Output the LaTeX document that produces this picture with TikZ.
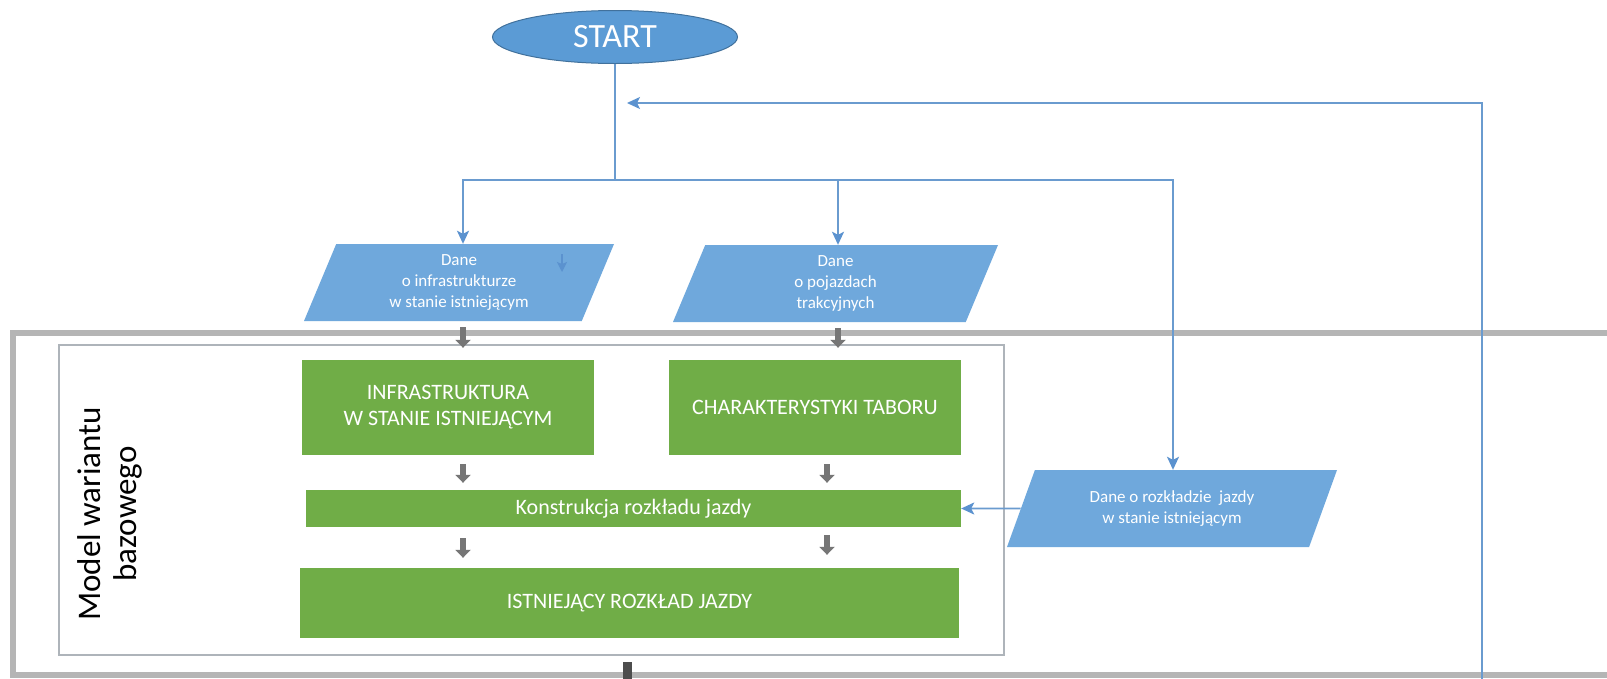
\documentclass[tikz,border=0pt]{standalone}
\usepackage{fontspec}
\setmainfont{Carlito}
\usetikzlibrary{shapes.geometric,arrows.meta,calc}
\definecolor{lineblue}{HTML}{6A9BCF}
\definecolor{tipblue}{HTML}{5B92CF}
\definecolor{parablue}{HTML}{6FA8DC}
\definecolor{startblue}{HTML}{5B9BD5}
\definecolor{startedge}{HTML}{41719C}
\definecolor{boxgreen}{HTML}{70AD47}
\definecolor{arrgray}{HTML}{767676}
\definecolor{framegray}{HTML}{B5B5B5}
\definecolor{innergray}{HTML}{AEB4BA}
\definecolor{darkbar}{HTML}{4D4D4D}
\begin{document}
\begin{tikzpicture}[x=1pt,y=-1pt,
  wire/.style={draw=lineblue, line width=1.6pt},
  flow/.style={draw=lineblue, line width=1.6pt, -{Stealth[length=13pt,width=12pt,inset=3pt,color=tipblue]}},
  para/.style={trapezium, trapezium left angle=60, trapezium right angle=120,
    trapezium stretches body, fill=parablue, draw=none, text=white, align=center,
    font=\fontsize{17}{21}\selectfont, inner sep=0pt},
  gbox/.style={rectangle, fill=boxgreen, draw=none, text=white, align=center,
    font=\fontsize{22}{26}\selectfont, inner sep=0pt},
  garrow/.style={draw=arrgray, line width=6pt, -{Triangle[length=8pt,width=15pt]}},
]
\useasboundingbox (0,0) rectangle (1607,678);
\clip (0,0) rectangle (1607,678);
\fill[white] (0,0) rectangle (1607,678);

% frames
\draw[framegray, line width=6pt] (13,333) rectangle (1650,675);
\draw[innergray, line width=1.2pt] (59,345) rectangle (1004,655);

% nodes
\node[ellipse, fill=startblue, draw=startedge, line width=1pt, minimum width=245pt,
  minimum height=53pt, inner sep=0pt, text=white, font=\fontsize{34}{40}\selectfont]
  (start) at (615,37) {START};

\node[para, minimum width=310pt, minimum height=77pt] (para1) at (459,282.5)
  {Dane\\o infrastrukturze\\w stanie istniejącym};
\node[para, minimum width=325pt, minimum height=77pt] (para2) at (835.5,283.5)
  {Dane\\o pojazdach\\trakcyjnych};
\node[para, trapezium left angle=52, trapezium right angle=128,
  minimum width=330pt, minimum height=77pt] (para3) at (1172,508.5)
  {Dane o rozkładzie\ \ jazdy\\w stanie istniejącym};

\node[gbox, minimum width=292pt, minimum height=95pt] (box1) at (448,407.5)
  {INFRASTRUKTURA\\W STANIE ISTNIEJĄCYM};
\node[gbox, minimum width=292pt, minimum height=95pt] (box2) at (815,407.5)
  {CHARAKTERYSTYKI TABORU};
\node[gbox, minimum width=655pt, minimum height=37pt] (kon) at (633.5,508.5)
  {Konstrukcja rozkładu jazdy};
\node[gbox, minimum width=659pt, minimum height=70pt] (ist) at (629.5,603)
  {ISTNIEJĄCY ROZKŁAD JAZDY};

\node[rotate=90, align=center, font=\fontsize{33}{36}\selectfont] (model) at (110,514)
  {Model wariantu\\bazowego};

% coordinates
\coordinate (b1) at (463,180);
\coordinate (b2) at (838,180);
\coordinate (b3) at (1173,180);
\coordinate (fbbot) at (1482,680);
\coordinate (fbcorner) at (1482,103);
\coordinate (fbtip) at (627,103);
\coordinate (sa1) at (562,254);
\coordinate (sa2) at (562,272);
\coordinate (gx1) at (463,0);
\coordinate (gx2) at (838,0);
\coordinate (gx3) at (827,0);
\coordinate (gbot) at (627,682);

% blue connectors
\draw[wire] (start.south) -- (start.south |- b1);
\draw[flow] (start.south |- b1) -- (b1) -- (b1 |- para1.north);
\draw[flow] (b2) -- (b2 |- para2.north);
\draw[flow] (start.south |- b1) -- (b3) -- (b3 |- para3.north);
\draw[flow] (fbbot) -- (fbcorner) -- (fbtip);
\draw[flow] (para3.west) -- (kon.east);
\draw[draw=tipblue, line width=1.3pt, -{Stealth[length=10pt,width=10pt,inset=2pt]}] (sa1) -- (sa2);

% gray block arrows
\draw[garrow] ($(para1.south -| gx1)+(0,6)$) -- ($(box1.north -| gx1)+(0,-12)$);
\draw[garrow] ($(para2.south -| gx2)+(0,6)$) -- ($(box2.north -| gx2)+(0,-12)$);
\draw[garrow] ($(box1.south -| gx1)+(0,9)$) -- ($(kon.north -| gx1)+(0,-7)$);
\draw[garrow] ($(box2.south -| gx3)+(0,9)$) -- ($(kon.north -| gx3)+(0,-7)$);
\draw[garrow] ($(kon.south -| gx1)+(0,11)$) -- ($(ist.north -| gx1)+(0,-10)$);
\draw[garrow] ($(kon.south -| gx3)+(0,8)$) -- ($(ist.north -| gx3)+(0,-13)$);
\draw[darkbar, line width=9pt] ($(ist.south -| gbot)+(0,24)$) -- (gbot);
\end{tikzpicture}
\end{document}
